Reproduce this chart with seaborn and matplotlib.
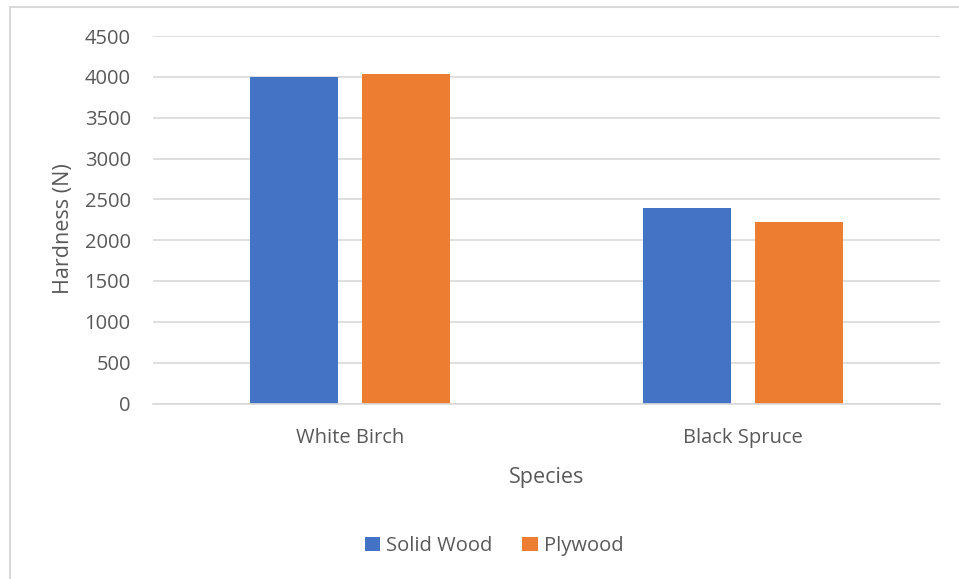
import matplotlib
matplotlib.use("Agg")
import matplotlib.pyplot as plt
import seaborn as sns
import pandas as pd
from matplotlib.patches import Rectangle

# Hardness measurements by species and material
species = ["White Birch", "Black Spruce"]
materials = ["Solid Wood", "Plywood"]
solid_wood = [4000, 2390]
plywood = [4030, 2220]
y_ticks = [0, 500, 1000, 1500, 2000, 2500, 3000, 3500, 4000, 4500]

df = pd.DataFrame({
    "Species": species * 2,
    "Material": [materials[0]] * len(species) + [materials[1]] * len(species),
    "Hardness": solid_wood + plywood,
})

sns.set_theme(style="white")
plt.rcParams["font.family"] = ["Open Sans", "DejaVu Sans"]
text_color = "#595959"
grid_color = "#D9D9D9"

fig = plt.figure(figsize=(9.59, 5.79), dpi=100)
ax = fig.add_axes([153 / 959, 1 - 403.5 / 579, (940 - 153) / 959, (403.5 - 36) / 579])

sns.barplot(
    data=df, x="Species", y="Hardness", hue="Material",
    hue_order=materials, order=species,
    palette=["#4472C4", "#ED7D31"],
    width=0.569, gap=0.214, saturation=1, linewidth=0, ax=ax, legend=True,
)

ax.set_ylim(0, 4500)
ax.set_xlim(-0.5, 1.5)
ax.set_yticks(y_ticks)
ax.set_yticklabels([str(t) for t in y_ticks])
ax.yaxis.grid(True, color=grid_color, linewidth=1.2)
ax.set_axisbelow(True)
for side in ["top", "right", "left"]:
    ax.spines[side].set_visible(False)
ax.spines["bottom"].set_color(grid_color)
ax.spines["bottom"].set_linewidth(1.2)
ax.tick_params(axis="both", length=0, colors=text_color, labelsize=14.5)
ax.tick_params(axis="y", pad=16)
ax.tick_params(axis="x", pad=17.5)

ax.set_xlabel("Species", fontsize=15.5, color=text_color)
ax.set_ylabel("Hardness (N)", fontsize=15.5, color=text_color)
ax.xaxis.set_label_coords(0.5, (403.5 - 477) / 367.5, transform=ax.transAxes)
ax.yaxis.set_label_coords((63 - 153) / 787, (403.5 - 229) / 367.5, transform=ax.transAxes)
ax.xaxis.label.set_verticalalignment("center")
ax.yaxis.label.set_verticalalignment("center")

handles, labels = ax.get_legend_handles_labels()
ax.legend_.remove()
fig.legend(
    handles, labels, loc="center", bbox_to_anchor=(494 / 959, 1 - 546 / 579),
    ncol=2, frameon=False, fontsize=14.5, labelcolor=text_color,
    handlelength=0.75, handleheight=0.75, handletextpad=0.3, columnspacing=1.5,
)

# Chart frame
fig.patches.append(Rectangle((9.5 / 959, -0.1), 1.2, 1 - 7 / 579 + 0.1,
                             transform=fig.transFigure, fill=False,
                             edgecolor=grid_color, linewidth=1.5))

fig.savefig("out.png", dpi=100, facecolor="white")
